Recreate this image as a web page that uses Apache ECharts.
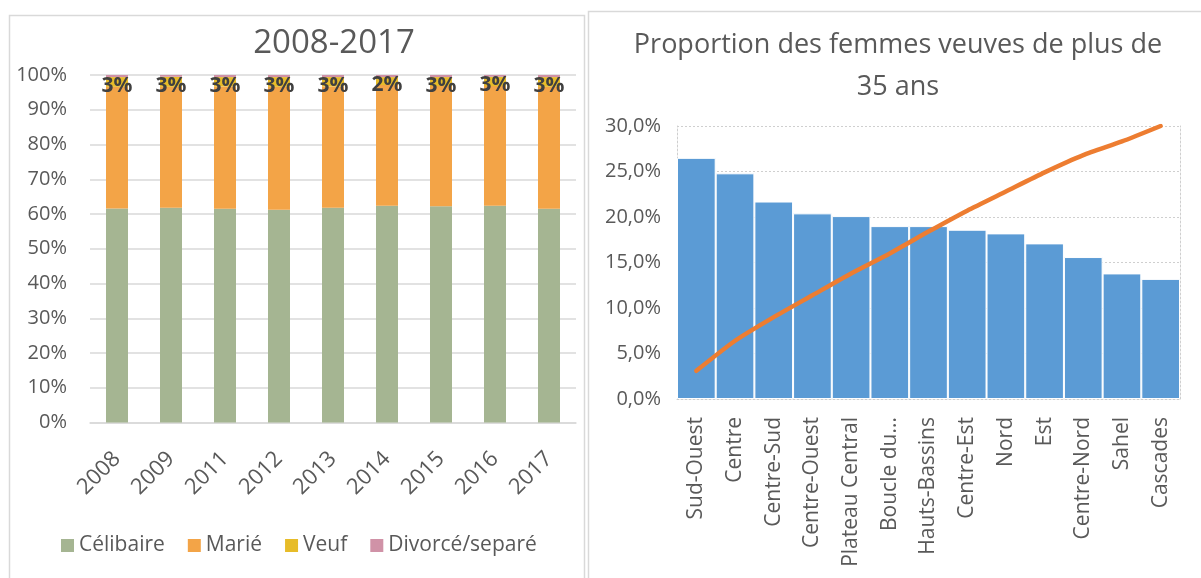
<!DOCTYPE html>
<html>
<head>
  <meta charset="utf-8">
</head>
<body style="margin: 0; background: #fff">
  <div id="container" style="width: 1201px; height: 578px"></div>
  <script src="https://cdn.jsdelivr.net/npm/echarts@6/dist/echarts.min.js"></script>
  <script type="text/javascript">
    // left chart: état matrimonial 2008-2017 (100% empilé)
    const years = ['2008', '2009', '2011', '2012', '2013', '2014', '2015', '2016', '2017'];
    const celibaire = [61.6, 61.8, 61.5, 61.2, 61.8, 62.4, 62.2, 62.4, 61.5];
    const marie = [35.0, 34.8, 35.2, 35.4, 34.9, 34.7, 34.6, 34.4, 35.1];
    const veuf = [2.8, 2.9, 2.7, 2.8, 2.7, 2.3, 2.6, 2.7, 2.8];
    const divorce = [0.6, 0.5, 0.6, 0.6, 0.6, 0.6, 0.6, 0.5, 0.6];
    const pctTicks = [0, 10, 20, 30, 40, 50, 60, 70, 80, 90, 100];

    // right chart: proportion des femmes veuves de plus de 35 ans
    const regions = ['Sud-Ouest', 'Centre', 'Centre-Sud', 'Centre-Ouest', 'Plateau Central', 'Boucle du...',
      'Hauts-Bassins', 'Centre-Est', 'Nord', 'Est', 'Centre-Nord', 'Sahel', 'Cascades'];
    const veuves = [26.5, 24.8, 21.7, 20.4, 20.1, 19.0, 19.0, 18.6, 18.2, 17.1, 15.6, 13.8, 13.2];
    const cumul = [3.1, 6.4, 9.0, 11.4, 13.8, 16.0, 18.4, 20.7, 22.8, 24.9, 26.8, 28.3, 30.0];

    let dom = document.getElementById('container');
    let myChart = echarts.init(dom);

    const txt = '#595959';
    const font = '"Open Sans", "Noto Sans", sans-serif';

    let option = {
      animation: false,
      textStyle: { fontFamily: font },
      color: ['#A5B592', '#F3A447', '#E7BC29', '#D092A7', '#5B9BD5', '#ED7D31'],
      title: [{
        text: '2008-2017',
        left: 334,
        top: 27,
        textAlign: 'center',
        padding: 0,
        textStyle: { fontSize: 33, fontWeight: 'normal', color: txt, fontFamily: font }
      }, {
        text: 'Proportion des femmes veuves de plus de\n35 ans',
        left: 898,
        top: 24,
        textAlign: 'center',
        padding: 0,
        textStyle: { fontSize: 27, fontWeight: 'normal', color: txt, fontFamily: font, lineHeight: 42 }
      }],
      legend: {
        data: ['Célibaire', 'Marié', 'Veuf', 'Divorcé/separé'],
        left: 61,
        top: 535,
        padding: 0,
        icon: 'rect',
        itemWidth: 13,
        itemHeight: 13,
        itemGap: 23,
        textStyle: { fontSize: 21, color: txt, fontFamily: font }
      },
      graphic: [
        { type: 'rect', shape: { x: 9.5, y: 15.5, width: 575, height: 600 },
          style: { fill: 'none', stroke: '#d9d9d9', lineWidth: 1.5 }, silent: true },
        { type: 'rect', shape: { x: 588.5, y: 11.5, width: 700, height: 600 },
          style: { fill: 'none', stroke: '#d9d9d9', lineWidth: 1.5 }, silent: true }
      ],
      grid: [
        { left: 90, right: 625, top: 75, bottom: 155.5 },
        { left: 677, right: 21, top: 126, bottom: 179 }
      ],
      xAxis: [{
        gridIndex: 0,
        type: 'category',
        data: years,
        axisTick: { show: false },
        axisLine: { lineStyle: { color: '#d9d9d9', width: 1.5 } },
        axisLabel: { rotate: 45, margin: 33, fontSize: 22, color: txt }
      }, {
        gridIndex: 1,
        type: 'category',
        data: regions,
        axisTick: { show: false },
        axisLine: { lineStyle: { color: '#cfcfcf', type: [2, 2] } },
        axisLabel: { rotate: 90, margin: 18, fontSize: 21, color: txt, interval: 0 }
      }],
      yAxis: [{
        gridIndex: 0,
        type: 'value',
        min: pctTicks[0],
        max: pctTicks[pctTicks.length - 1],
        interval: 10,
        axisLabel: { formatter: '{value}%', fontSize: 20, color: txt, margin: 23 },
        splitLine: { lineStyle: { color: '#d9d9d9', width: 1.5 } }
      }, {
        gridIndex: 1,
        type: 'value',
        min: 0,
        max: 30,
        interval: 5,
        axisLine: { show: true, lineStyle: { color: '#cfcfcf', type: [2, 2] } },
        axisLabel: {
          fontSize: 20, color: txt, margin: 16,
          formatter: function (v) { return v.toFixed(1).replace('.', ',') + '%'; }
        },
        splitLine: { lineStyle: { color: '#cfcfcf', type: [2, 2] } }
      }, {
        gridIndex: 1,
        type: 'value',
        position: 'right',
        min: 0,
        max: 30,
        interval: 5,
        axisLine: { show: true, lineStyle: { color: '#cfcfcf', type: [2, 2] } },
        axisLabel: { show: false },
        splitLine: { show: false }
      }],
      series: [
        { name: 'Célibaire', type: 'bar', stack: 'etat', data: celibaire, barWidth: 22 },
        { name: 'Marié', type: 'bar', stack: 'etat', data: marie, barWidth: 22 },
        {
          name: 'Veuf', type: 'bar', stack: 'etat', data: veuf, barWidth: 22,
          label: {
            show: true, position: 'inside', offset: [0, 4], fontSize: 21, fontWeight: 'bold', color: '#404040',
            formatter: function (p) { return Math.round(p.value) + '%'; }
          }
        },
        { name: 'Divorcé/separé', type: 'bar', stack: 'etat', data: divorce, barWidth: 22 },
        {
          name: 'Veuves', type: 'bar', xAxisIndex: 1, yAxisIndex: 1, data: veuves,
          barCategoryGap: '0%',
          itemStyle: { color: '#5B9BD5', borderColor: '#fff', borderWidth: 1 }
        },
        {
          name: 'Cumul', type: 'line', xAxisIndex: 1, yAxisIndex: 1, data: cumul,
          smooth: 0.2, showSymbol: false,
          lineStyle: { color: '#ED7D31', width: 4.5, cap: 'round' }
        }
      ]
    };

    myChart.setOption(option);
  </script>
</body>
</html>
